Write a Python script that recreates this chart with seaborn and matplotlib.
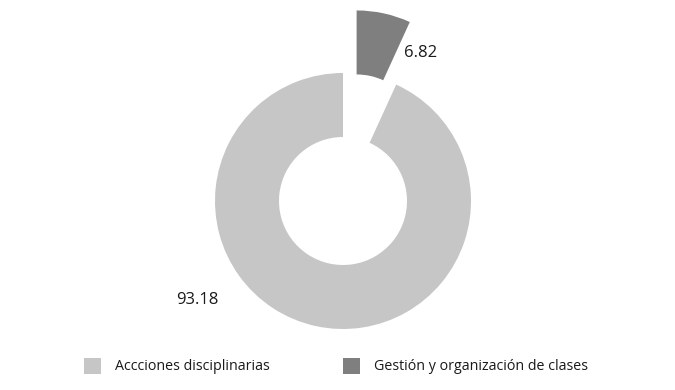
import matplotlib
matplotlib.use("Agg")
import matplotlib.pyplot as plt
from matplotlib.patches import Patch
import seaborn as sns

# data
categories = ["Accciones disciplinarias", "Gestión y organización de clases"]
values = [93.18, 6.82]
explode = [0, 0.5]
colors = ["#c6c6c6", "#7f7f7f"]

sns.set_theme(style="white")
plt.rcParams['font.family'] = ['Open Sans', 'DejaVu Sans']

fig = plt.figure(figsize=(6.75, 3.9), dpi=100)
ax = fig.add_axes([0, 0, 1, 1])

wedges, _ = ax.pie(values, explode=explode, colors=colors, startangle=90,
                   radius=1, wedgeprops=dict(width=0.5, linewidth=0))

# value labels
label_pos = [(-1.14, -0.805), (0.605, 1.125)]
for v, (x, y) in zip(values, label_pos):
    ax.text(x, y, f"{v:.2f}", ha="center", va="baseline",
            fontsize=12, color="#1a1a1a")

# pixel-based limits: center at (343, 201) px, radius 128 px
s = 128
ax.set_xlim(-343 / s, (675 - 343) / s)
ax.set_ylim(-(390 - 201) / s, 201 / s)
ax.set_aspect("auto")
ax.axis("off")

handles = [Patch(facecolor=c, edgecolor="none") for c in colors]
fig.legend(handles, categories, loc="center", bbox_to_anchor=(0.498, 0.0615),
           ncol=2, frameon=False, fontsize=10.3, handlelength=1.19,
           handleheight=1.33, handletextpad=0.98, columnspacing=5.1,
           borderpad=0, labelcolor="#1a1a1a")

fig.savefig("out.png", dpi=100, facecolor="white")
